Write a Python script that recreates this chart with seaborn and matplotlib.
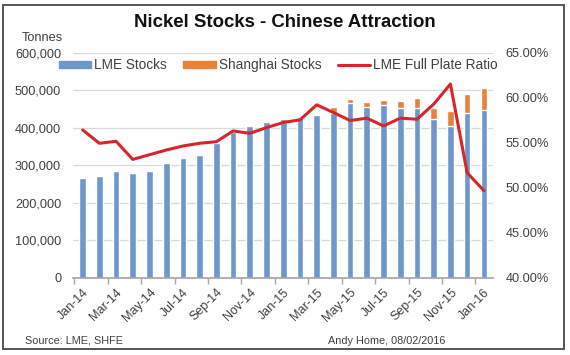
"""Nickel stocks: LME vs Shanghai, with the LME full plate ratio."""

import matplotlib
import numpy as np
import pandas as pd

matplotlib.use("Agg")
import matplotlib.pyplot as plt
import seaborn as sns
from matplotlib.ticker import FuncFormatter


MONTHS = [
    "Jan-14", "Feb-14", "Mar-14", "Apr-14", "May-14", "Jun-14", "Jul-14",
    "Aug-14", "Sep-14", "Oct-14", "Nov-14", "Dec-14", "Jan-15", "Feb-15",
    "Mar-15", "Apr-15", "May-15", "Jun-15", "Jul-15", "Aug-15", "Sep-15",
    "Oct-15", "Nov-15", "Dec-15", "Jan-16",
]
LME_STOCKS = [
    267000, 272000, 285000, 279000, 285000, 307000, 320000, 329000, 361000,
    389000, 404000, 415000, 425000, 430000, 435000, 440000, 466000, 457000,
    460000, 454000, 452000, 425000, 406000, 441000, 447000,
]
SHANGHAI_STOCKS = [
    0, 0, 0, 0, 0, 0, 0, 0, 0, 0, 0, 0, 0, 0, 0,
    15000, 12000, 13000, 15000, 18000, 28000, 28000, 39000, 49000, 60000,
]
FULL_PLATE_RATIO = [
    56.44, 54.96, 55.18, 53.17, 53.69, 54.21, 54.66, 54.96, 55.14, 56.33,
    56.07, 56.70, 57.27, 57.56, 59.23, 58.38, 57.49, 57.75, 56.89, 57.75,
    57.63, 59.31, 61.54, 51.68, 49.71,
]

BLUE = "#7097CB"
ORANGE = "#E8813A"
RED = "#D7262B"
GREY_TEXT = "#404040"


def build_dataframe():
    df = pd.DataFrame({
        "Month": MONTHS,
        "LME": LME_STOCKS,
        "Shanghai": SHANGHAI_STOCKS,
        "Ratio": FULL_PLATE_RATIO,
    })
    df["Total"] = df["LME"] + df["Shanghai"]
    df["Pos"] = np.arange(len(df))
    return df


def main():
    sns.set_theme(style="white")
    plt.rcParams["font.family"] = ["Liberation Sans", "DejaVu Sans"]

    df = build_dataframe()

    fig = plt.figure(figsize=(5.7, 3.55), dpi=100)
    ax = fig.add_axes([0.128, 0.217, 0.737, 0.634])

    # stacked bars: total in orange, LME drawn over it in blue
    sns.barplot(data=df, x="Month", y="Total", color=ORANGE, width=0.4,
                saturation=1, ax=ax, label="Shanghai Stocks", zorder=2)
    sns.barplot(data=df, x="Month", y="LME", color=BLUE, width=0.4,
                saturation=1, ax=ax, label="LME Stocks", zorder=3)

    ax.set_ylim(0, 600000)
    ax.set_xlim(-0.58, 24.55)
    ax.set_yticks(np.arange(0, 600001, 100000))
    ax.yaxis.set_major_formatter(FuncFormatter(lambda v, p: f"{int(v):,}"))
    ax.grid(axis="y", color="#D9D9D9", linewidth=0.9, zorder=0)
    ax.set_axisbelow(True)

    ax.set_xticks(np.arange(0, 25, 2))
    ax.set_xticklabels(MONTHS[::2], rotation=45, ha="right",
                       rotation_mode="anchor")
    ax.set_xticks(np.arange(-0.5, 25, 2), minor=True)
    ax.tick_params(axis="x", which="major", length=0, pad=6,
                   labelsize=9, colors=GREY_TEXT)
    ax.tick_params(axis="x", which="minor", length=4, color="#A6A6A6",
                   direction="out", bottom=True)
    ax.tick_params(axis="y", length=0, labelsize=9.2, colors=GREY_TEXT, pad=8.5)
    ax.set_xlabel("")
    ax.set_ylabel("")
    for side in ["left", "right", "top"]:
        ax.spines[side].set_visible(False)
    ax.spines["bottom"].set_color("#A6A6A6")
    ax.spines["bottom"].set_zorder(4)
    if ax.get_legend() is not None:
        ax.get_legend().remove()

    ax2 = ax.twinx()
    sns.lineplot(data=df, x="Pos", y="Ratio", color=RED, linewidth=2.2,
                 ax=ax2, label="LME Full Plate Ratio", legend=False)
    ax2.set_ylim(40, 65)
    ax2.set_yticks(np.arange(40, 66, 5))
    ax2.yaxis.set_major_formatter(FuncFormatter(lambda v, p: f"{v:.2f}%"))
    ax2.tick_params(axis="y", length=0, labelsize=9.2, colors=GREY_TEXT, pad=9)
    ax2.set_ylabel("")
    ax2.set_xlabel("")
    for side in ["left", "right", "top", "bottom"]:
        ax2.spines[side].set_visible(False)

    handles = [
        plt.Rectangle((0, 0), 1, 1, color=BLUE),
        plt.Rectangle((0, 0), 1, 1, color=ORANGE),
        plt.Line2D([0], [0], color=RED, linewidth=2.2),
    ]
    fig.legend(handles, ["LME Stocks", "Shanghai Stocks", "LME Full Plate Ratio"],
               loc="center", bbox_to_anchor=(0.488, 0.817), ncol=3,
               frameon=False, fontsize=9.8, handlelength=2.4, handleheight=0.4,
               handletextpad=0.2, columnspacing=1.2, labelcolor=GREY_TEXT)

    fig.text(0.5, 0.937, "Nickel Stocks - Chinese Attraction", ha="center",
             va="center", fontsize=13.4, fontweight="bold", color="#111111")
    fig.text(0.074, 0.893, "Tonnes", ha="center", va="center",
             fontsize=9.2, color=GREY_TEXT)
    fig.text(0.044, 0.04, "Source: LME, SHFE", ha="left", va="center",
             fontsize=7.8, color=GREY_TEXT)
    fig.text(0.782, 0.04, "Andy Home, 08/02/2016", ha="right", va="center",
             fontsize=7.8, color=GREY_TEXT)

    # outer chart frame
    fig.patches.append(plt.Rectangle((0.006, 0.017), 0.984, 0.968,
                                     transform=fig.transFigure, fill=False,
                                     edgecolor="#555555", linewidth=1.4))

    fig.savefig("out.png", dpi=100)
    plt.close(fig)


if __name__ == "__main__":
    main()
